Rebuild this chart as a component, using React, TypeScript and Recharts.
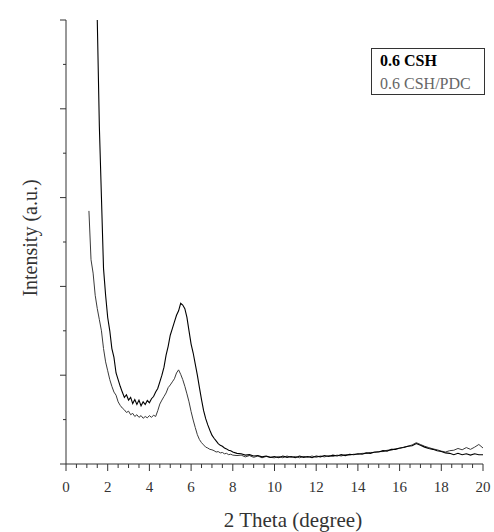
import React from 'react';
import { LineChart, Line, XAxis, YAxis, Label } from 'recharts';

// 2θ positions (degree); denser sampling in the low-angle region
const theta = [
  1.0, 1.1, 1.2, 1.3, 1.4, 1.5, 1.6, 1.7, 1.8, 1.9,
  2.0, 2.1, 2.2, 2.3, 2.4, 2.5, 2.6, 2.7, 2.8, 2.9,
  3.0, 3.1, 3.2, 3.3, 3.4, 3.5, 3.6, 3.7, 3.8, 3.9,
  4.0, 4.1, 4.2, 4.3, 4.4, 4.5, 4.6, 4.7, 4.8, 4.9,
  5.0, 5.1, 5.2, 5.3, 5.4, 5.5, 5.6, 5.7, 5.8, 5.9,
  6.0, 6.1, 6.2, 6.3, 6.4, 6.5, 6.6, 6.7, 6.8, 6.9,
  7.0, 7.1, 7.2, 7.3, 7.4, 7.5, 7.6, 7.7, 7.8, 7.9,
  8.0, 8.2, 8.4, 8.6, 8.8, 9.0, 9.2, 9.4, 9.6, 9.8,
  10.0, 10.2, 10.4, 10.6, 10.8, 11.0, 11.2, 11.4, 11.6, 11.8,
  12.0, 12.2, 12.4, 12.6, 12.8, 13.0, 13.2, 13.4, 13.6, 13.8,
  14.0, 14.2, 14.4, 14.6, 14.8, 15.0, 15.2, 15.4, 15.6, 15.8,
  16.0, 16.2, 16.4, 16.6, 16.8, 17.0, 17.2, 17.4, 17.6, 17.8,
  18.0, 18.2, 18.4, 18.6, 18.8, 19.0, 19.2, 19.4, 19.6, 19.8,
  20.0,
];

// 0.6 CSH
const csh = [
  null, null, null, null, null, 10.0, 7.6, 6.0, 4.4, 3.8,
  3.3, 3.0, 2.6, 2.4, 2.05, 1.9, 1.75, 1.62, 1.50, 1.56,
  1.44, 1.50, 1.36, 1.45, 1.34, 1.44, 1.31, 1.40, 1.34, 1.43,
  1.38, 1.47, 1.52, 1.62, 1.70, 1.85, 2.00, 2.18, 2.45, 2.65,
  2.90, 3.05, 3.20, 3.35, 3.45, 3.62, 3.58, 3.50, 3.30, 3.00,
  2.70, 2.50, 2.25, 2.00, 1.72, 1.45, 1.20, 1.02, 0.88, 0.76,
  0.65, 0.58, 0.52, 0.46, 0.42, 0.40, 0.36, 0.34, 0.31, 0.30,
  0.27, 0.24, 0.23, 0.20, 0.21, 0.18, 0.19, 0.16, 0.18, 0.15,
  0.17, 0.14, 0.18, 0.15, 0.17, 0.14, 0.18, 0.15, 0.17, 0.14,
  0.18, 0.16, 0.19, 0.17, 0.20, 0.18, 0.21, 0.19, 0.22, 0.21,
  0.23, 0.22, 0.25, 0.24, 0.27, 0.27, 0.30, 0.29, 0.33, 0.33,
  0.36, 0.37, 0.40, 0.41, 0.46, 0.42, 0.38, 0.35, 0.33, 0.30,
  0.28, 0.25, 0.24, 0.21, 0.24, 0.21, 0.23, 0.20, 0.23, 0.21,
  0.21,
];

// 0.6 CSH/PDC
const pdc = [
  null, 5.70, 4.60, 4.30, 3.80, 3.50, 3.25, 3.00, 2.60, 2.30,
  2.10, 1.90, 1.75, 1.62, 1.55, 1.40, 1.32, 1.26, 1.22, 1.16,
  1.19, 1.11, 1.14, 1.07, 1.11, 1.05, 1.09, 1.03, 1.07, 1.04,
  1.09, 1.05, 1.10, 1.07, 1.20, 1.35, 1.44, 1.52, 1.60, 1.72,
  1.78, 1.85, 1.92, 2.05, 2.12, 2.02, 1.90, 1.75, 1.58, 1.40,
  1.18, 0.99, 0.82, 0.66, 0.55, 0.48, 0.43, 0.38, 0.36, 0.33,
  0.32, 0.30, 0.27, 0.28, 0.25, 0.26, 0.23, 0.24, 0.21, 0.22,
  0.20, 0.19, 0.20, 0.16, 0.19, 0.15, 0.18, 0.14, 0.17, 0.15,
  0.14, 0.17, 0.14, 0.18, 0.15, 0.17, 0.14, 0.17, 0.15, 0.18,
  0.15, 0.18, 0.16, 0.19, 0.17, 0.20, 0.18, 0.21, 0.20, 0.22,
  0.22, 0.24, 0.24, 0.26, 0.26, 0.28, 0.28, 0.31, 0.31, 0.34,
  0.35, 0.38, 0.40, 0.43, 0.48, 0.44, 0.40, 0.37, 0.34, 0.32,
  0.29, 0.27, 0.30, 0.31, 0.35, 0.32, 0.37, 0.33, 0.38, 0.44,
  0.36,
];

const xTicks = Array.from({ length: 41 }, (_, i) => i * 0.5);
const yTicks = [0, 1, 2, 3, 4, 5, 6, 7, 8, 9, 10];

const data = theta.map((t, i) => ({ theta: t, csh: csh[i], pdc: pdc[i] }));

const FONT = '"Liberation Serif", "DejaVu Serif", serif';

function XTick(props: any) {
  const { x, y, payload } = props;
  const v = payload.value;
  const major = Math.abs(v % 2) < 1e-6;
  return (
    <g>
      <line x1={x} x2={x} y1={y} y2={y + (major ? 7 : 4)} stroke="#333" strokeWidth={1} />
      {major && (
        <text x={x} y={y + 28} textAnchor="middle" fontSize={15} fontFamily={FONT} fill="#333">
          {v}
        </text>
      )}
    </g>
  );
}

function YTick(props: any) {
  const { x, y, payload } = props;
  const major = payload.value % 2 === 0;
  return <line x1={x - (major ? 6 : 3)} x2={x} y1={y} y2={y} stroke="#333" strokeWidth={1} />;
}

function LegendBox() {
  return (
    <div
      style={{
        position: 'absolute',
        left: 371,
        top: 48,
        width: 104,
        height: 45,
        paddingLeft: 8,
        border: '1px solid #333',
        fontFamily: FONT,
        fontSize: 16,
        lineHeight: '23px',
        background: '#fff',
        whiteSpace: 'nowrap',
      }}
    >
      <div style={{ fontWeight: 700, color: '#000' }}>0.6 CSH</div>
      <div style={{ color: '#666' }}>0.6 CSH/PDC</div>
    </div>
  );
}

export default function App() {
  return (
    <div style={{ position: 'absolute', left: 0, top: 0, width: 494, height: 532, background: '#fff' }}>
      <LineChart width={494} height={532} data={data} margin={{ top: 20, right: 11, bottom: 38, left: 6 }}>
        <XAxis
          dataKey="theta"
          type="number"
          domain={[0, 20]}
          ticks={xTicks}
          interval={0}
          tick={<XTick />}
          tickLine={false}
          tickSize={0}
          tickMargin={0}
          axisLine={{ stroke: '#333' }}
          height={30}
        >
          <Label
            content={() => (
              <text x={293} y={527} textAnchor="middle" fontSize={21} fontFamily={FONT} fill="#333">
                2 Theta (degree)
              </text>
            )}
          />
        </XAxis>
        <YAxis
          type="number"
          domain={[0, 10]}
          ticks={yTicks}
          interval={0}
          tick={<YTick />}
          tickLine={false}
          tickSize={0}
          tickMargin={0}
          axisLine={{ stroke: '#333' }}
          width={60}
          allowDataOverflow
        >
          <Label
            content={() => (
              <text
                x={30}
                y={238}
                textAnchor="middle"
                fontSize={20}
                fontFamily={FONT}
                fill="#333"
                transform="rotate(-90 30 238)"
                dominantBaseline="central"
              >
                Intensity (a.u.)
              </text>
            )}
          />
        </YAxis>
        <Line
          type="linear"
          dataKey="pdc"
          stroke="#3a3a3a"
          strokeWidth={1}
          dot={false}
          isAnimationActive={false}
        />
        <Line
          type="linear"
          dataKey="csh"
          stroke="#000"
          strokeWidth={1.1}
          dot={false}
          isAnimationActive={false}
        />
      </LineChart>
      <LegendBox />
    </div>
  );
}
